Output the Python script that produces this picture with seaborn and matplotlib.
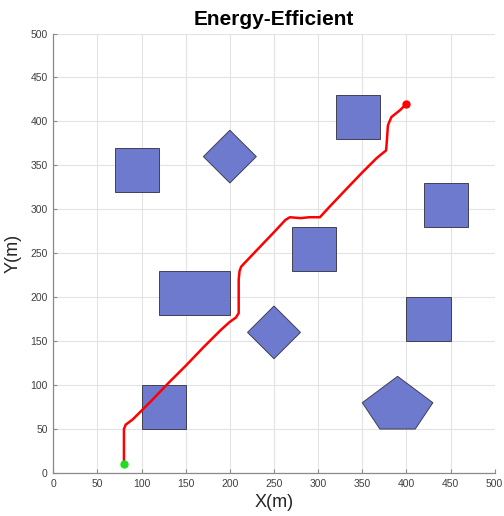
import numpy as np
import pandas as pd
import seaborn as sns
import matplotlib
matplotlib.use("Agg")
import matplotlib.pyplot as plt
from matplotlib.patches import Polygon

# obstacles
squares = [(70, 320, 50, 50), (320, 380, 50, 50), (420, 280, 50, 50),
           (270, 230, 50, 50), (400, 150, 50, 50), (100, 50, 50, 50),
           (120, 180, 80, 50)]
diamonds = [(200, 360, 30), (250, 160, 30)]
pentagon_x = [390, 430, 410, 370, 350]
pentagon_y = [110, 80, 50, 50, 80]

# planned path
path_x = [80, 80, 80, 82, 90, 110, 130, 150, 170, 190, 200, 207, 210, 210, 210,
          211, 213, 230, 250, 263, 268, 280, 290, 302, 313, 330, 350, 366, 372,
          377, 378, 379, 380, 383, 388, 393, 397, 400]
path_y = [10, 30, 50, 55, 61, 81, 102, 122, 143, 163, 172, 177, 182, 200, 220,
          230, 235, 253, 274, 288, 291, 290, 291, 291, 303, 321, 342, 358, 363,
          367, 380, 395, 398, 405, 409, 413, 417, 420]
start = (80, 10)
goal = (400, 420)

sns.set_style("whitegrid")
plt.rcParams['font.family'] = ['Liberation Sans', 'DejaVu Sans']

fig = plt.figure(figsize=(5.04, 5.16), dpi=100)
ax = fig.add_axes([0.1058, 0.0833, 0.8757, 0.8517])

face = (0.40, 0.45, 0.80)
edge = '#3a3a4a'
for x0, y0, w, h in squares:
    ax.add_patch(Polygon([(x0, y0), (x0 + w, y0), (x0 + w, y0 + h), (x0, y0 + h)],
                         closed=True, facecolor=face, edgecolor=edge,
                         lw=0.7, alpha=0.95, zorder=2))
for cx, cy, r in diamonds:
    ax.add_patch(Polygon([(cx, cy + r), (cx + r, cy), (cx, cy - r), (cx - r, cy)],
                         closed=True, facecolor=face, edgecolor=edge,
                         lw=0.7, alpha=0.95, zorder=2))
ax.add_patch(Polygon(list(zip(pentagon_x, pentagon_y)), closed=True,
                     facecolor=face, edgecolor=edge, lw=0.7, alpha=0.95, zorder=2))

df = pd.DataFrame({"x": path_x, "y": path_y})
sns.lineplot(data=df, x="x", y="y", sort=False, estimator=None, color='red',
             lw=1.8, ax=ax, zorder=3)
ax.plot(*start, 'o', color='#22dd22', ms=5, zorder=4)
ax.plot(*goal, 'o', color='red', ms=5, zorder=4)

ax.set_xlim(0, 500)
ax.set_ylim(0, 500)
ax.set_xticks(np.arange(0, 501, 50))
ax.set_yticks(np.arange(0, 501, 50))
ax.grid(True, color='#e3e3e3', lw=0.8)
ax.set_axisbelow(True)
for s in ['top', 'right']:
    ax.spines[s].set_visible(False)
for s in ['left', 'bottom']:
    ax.spines[s].set_color('#8a8a8a')
    ax.spines[s].set_linewidth(0.9)
ax.tick_params(direction='in', length=3, color='#8a8a8a', labelcolor='#404040',
               labelsize=7.5, pad=4, left=True, bottom=True)

ax.set_title("Energy-Efficient", fontsize=15, fontweight='bold', color='black', pad=6)
ax.set_xlabel("X(m)", fontsize=13, color='#262626', labelpad=4)
ax.set_ylabel("Y(m)", fontsize=13, color='#262626', labelpad=6)

fig.savefig("out.png", dpi=100)
